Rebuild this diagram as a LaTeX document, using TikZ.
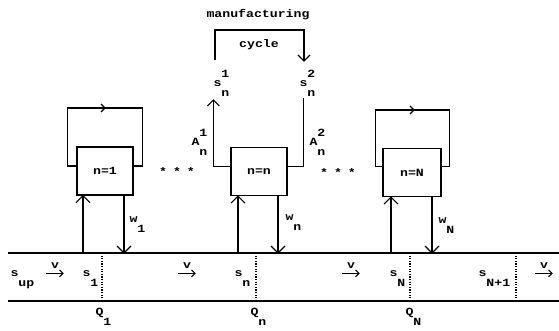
\documentclass[tikz,border=0pt]{standalone}
\usepackage{fontspec}
\newfontfamily\plot[FakeStretch=1.2]{Liberation Mono}
\usetikzlibrary{calc}
\newcommand{\sxs}[3]{#1\rlap{\raisebox{9pt}{#2}}\raisebox{-10pt}{#3}}
% open chevron arrow heads (y axis points down in this picture)
\newcommand{\chevU}[2]{\draw ($(#1)+(-#2,#2)$) -- (#1) -- ($(#1)+(#2,#2)$);}
\newcommand{\chevD}[2]{\draw ($(#1)+(-#2,-#2)$) -- (#1) -- ($(#1)+(#2,-#2)$);}
\newcommand{\chevR}[2]{\draw ($(#1)+(-#2,-#2)$) -- (#1) -- ($(#1)+(-#2,#2)$);}
\begin{document}
\begin{tikzpicture}[x=1pt,y=-1pt, line width=1.1pt,
  every node/.style={font=\plot\bfseries\fontsize{11}{11}\selectfont, inner sep=0pt, anchor=base west},
  proc/.style={draw, anchor=center, minimum width=56pt, minimum height=48pt},
  dots/.style={line width=1.6pt, dash pattern=on 1.2pt off 1.4pt},
]
\useasboundingbox (0,0) rectangle (559,331);

% processing boxes
\node[proc] (box1) at (105,171) {n=1};
\node[proc] (boxn) at (259,171.5) {n=n};
\node[proc, minimum width=58pt] (boxN) at (412,172.5) {n=N};

% self loops
\coordinate (L1) at (105,108);
\coordinate (LN) at (414,110);
\draw ($(box1.west)+(0,-5)$) -- ++(-9,0) |- (L1) -| ($(box1.east)+(9,-5)$) -- ($(box1.east)+(0,-5)$);
\chevR{L1}{4}
\draw ($(boxN.west)+(0,-6)$) -- ++(-7,0) |- (LN) -| ($(boxN.east)+(8,-6)$) -- ($(boxN.east)+(0,-6)$);
\chevR{LN}{4}

% manufacturing cycle
\node[anchor=center] (manu) at (258,15) {manufacturing};
\node[anchor=center] (cyc) at (259,45) {cycle};
\node (sn1) at (213,87) {\sxs{s}{1}{n}};
\node (sn2) at (299,87) {\sxs{s}{2}{n}};
\coordinate (c1) at (215,60);
\coordinate (c2) at (304,61);
\draw (c1) -- (215,30) -| (c2);
\chevD{c2}{6}
\draw ($(boxn.west)+(0,-5)$) -- ++(-17,0) coordinate (m1) -- (m1 |- 0,100) coordinate (m1t);
\chevU{m1t}{6}
\draw ($(boxn.east)+(0,-5)$) -- ++(16,0) coordinate (m2) -- (m2 |- 0,98);
\node (An1) at (191,146) {\sxs{A}{1}{n}};
\node (An2) at (309,146) {\sxs{A}{2}{n}};

% ellipses
\node[anchor=center] (dl) at (177,172) {*\hspace{6pt}*\hspace{6pt}*};
\node[anchor=center] (dr) at (338,173) {*\hspace{6pt}*\hspace{6pt}*};

% bus
\coordinate (bTL) at (8,253); \coordinate (bTR) at (559,253);
\coordinate (bBL) at (8,301); \coordinate (bBR) at (559,301);
\draw (bTL) -- (bTR);
\draw (bBL) -- (bBR);

% box <-> bus arrows
\coordinate (u1) at (83,253); \coordinate (d1) at (124,253);
\coordinate (un) at (238,253); \coordinate (dn) at (278,253);
\coordinate (uN) at (391,253); \coordinate (dN) at (432,253);
\coordinate (u1t) at (u1 |- box1.south);
\coordinate (unt) at (un |- boxn.south);
\coordinate (uNt) at (uN |- boxN.south);
\draw (u1) -- (u1t); \chevU{u1t}{7}
\draw (d1 |- box1.south) -- (d1); \chevD{d1}{7}
\draw (un) -- (unt); \chevU{unt}{7}
\draw (dn |- boxn.south) -- (dn); \chevD{dn}{7}
\draw (uN) -- (uNt); \chevU{uNt}{7}
\draw (dN |- boxN.south) -- (dN); \chevD{dN}{7}
\node (w1) at (129,222) {\sxs{w}{}{1}};
\node (wn) at (285,220) {\sxs{w}{}{n}};
\node (wN) at (438,223) {\sxs{w}{}{N}};

% dotted section boundaries
\draw[dots] (102,253) -- (102,301);
\draw[dots] (256,253) -- (256,301);
\draw[dots] (410,253) -- (410,301);
\draw[dots] (516,253) -- (516,301);

% bus labels
\node (sup) at (10,276) {\sxs{s}{}{up}};
\node (s1) at (82,276) {\sxs{s}{}{1}};
\node (sn) at (234,276) {\sxs{s}{}{n}};
\node (sN) at (389,276) {\sxs{s}{}{N}};
\node (sN1) at (478,276) {\sxs{s}{}{N+1}};
\node[anchor=center] (v1) at (55,266) {v};
\node[anchor=center] (v2) at (187,266) {v};
\node[anchor=center] (v3) at (351,266) {v};
\node[anchor=center] (v4) at (544,266) {v};
\foreach \v in {v1,v2,v3,v4}{
  \draw ($(\v.south)+(-9,4)$) -- ++(17,0) coordinate (vt);
  \chevR{vt}{3.5}
}

\node (Q1) at (95,315) {\sxs{Q}{}{1}};
\node (Qn) at (250,315) {\sxs{Q}{}{n}};
\node (QN) at (405,315) {\sxs{Q}{}{N}};
\end{tikzpicture}
\end{document}
